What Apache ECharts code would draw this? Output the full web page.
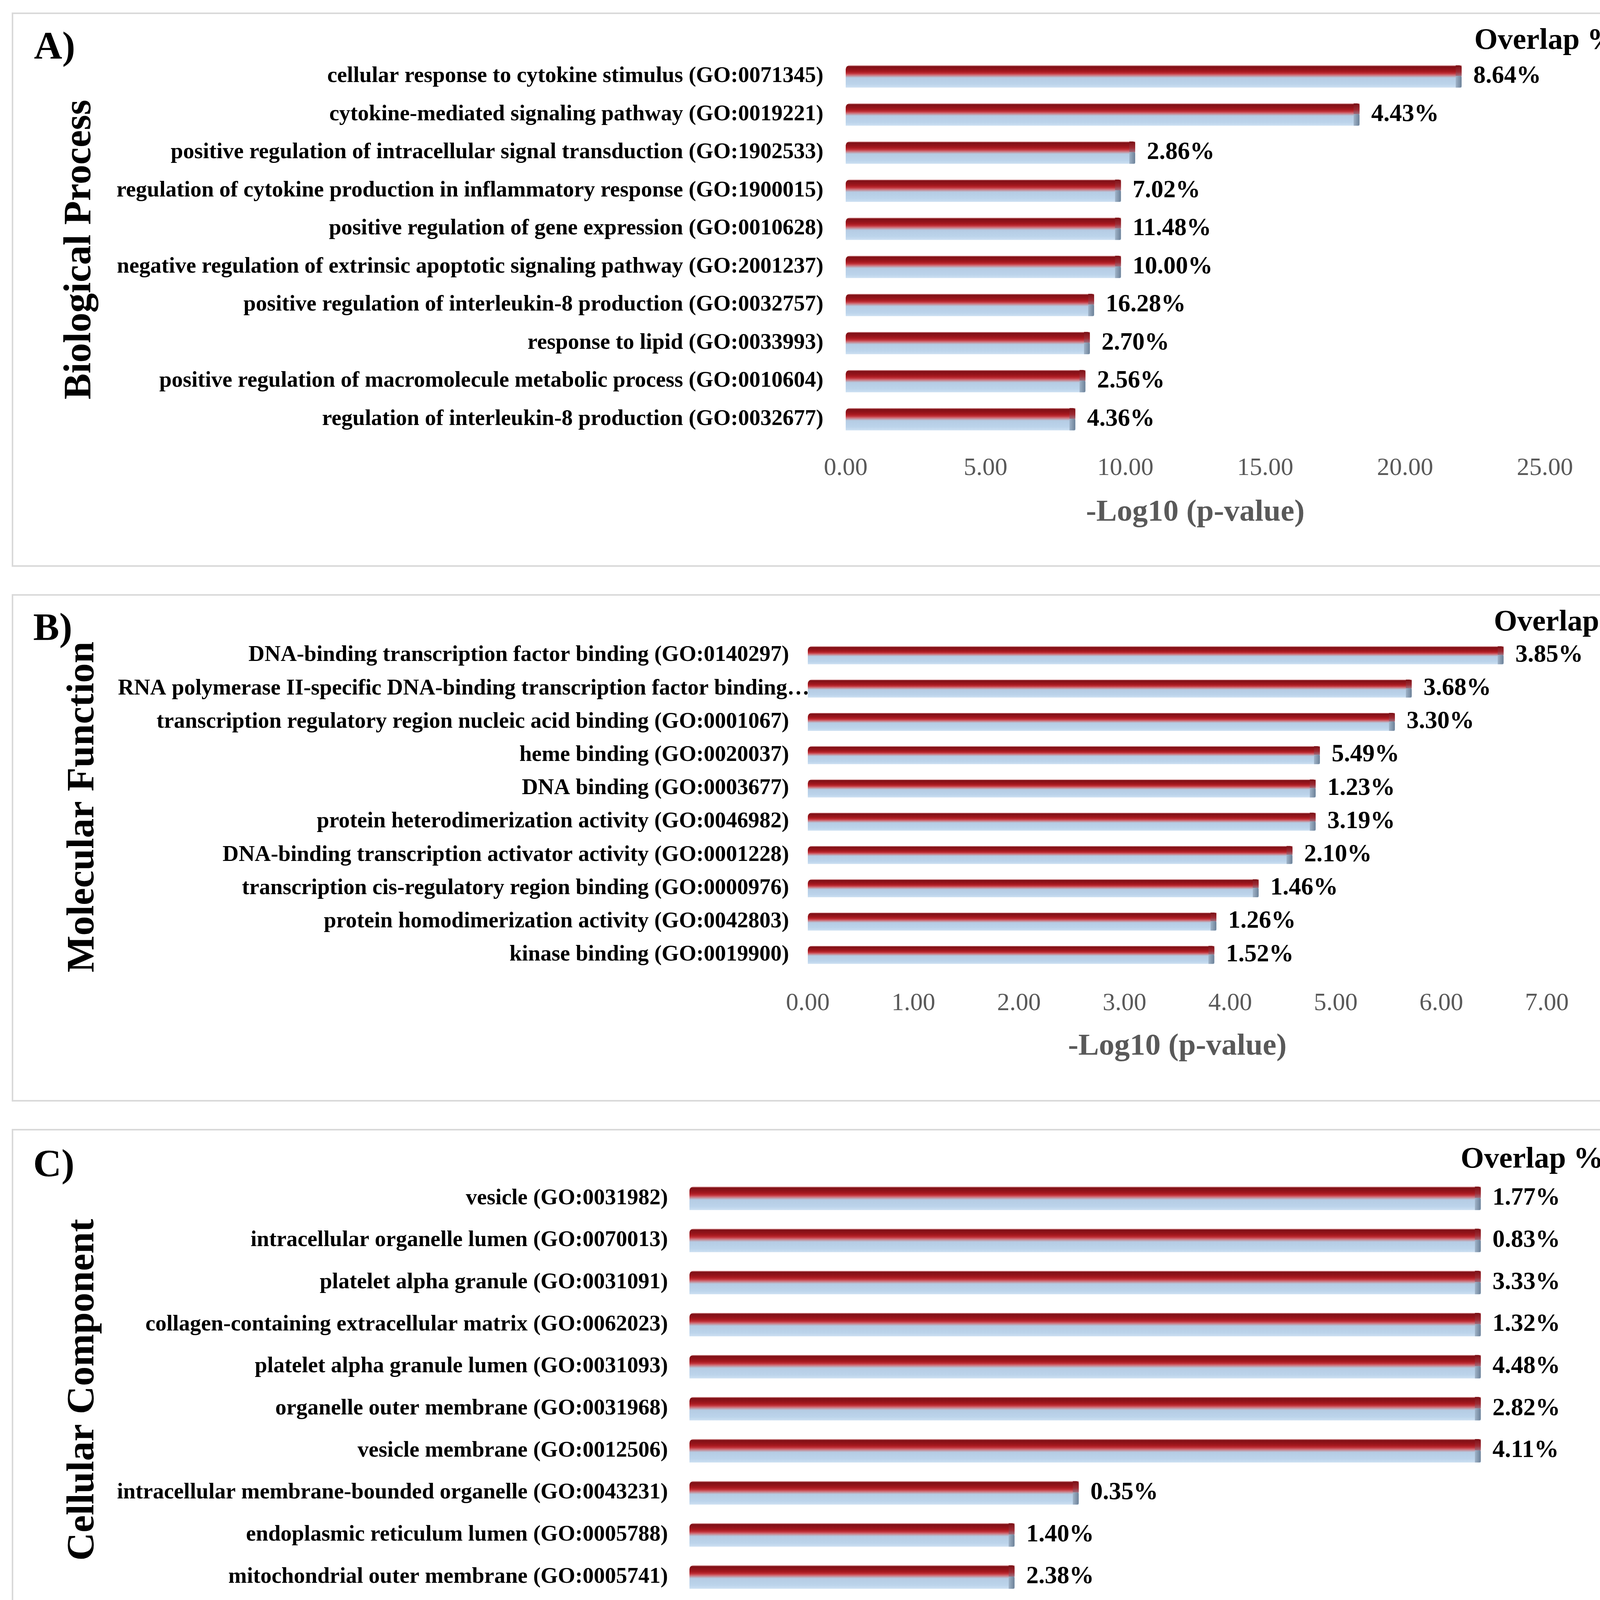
<!DOCTYPE html>
<html>
<head>
<meta charset="utf-8">
<script src="https://cdn.jsdelivr.net/npm/echarts@6/dist/echarts.min.js"></script>
<style>
html,body{margin:0;padding:0;background:#fff;}
#chart{width:4205px;height:4456px;}
</style>
</head>
<body>
<div id="chart"></div>
<script>
// ---------- DATA ----------
const bpCategories = [
  'cellular response to cytokine stimulus (GO:0071345)',
  'cytokine-mediated signaling pathway (GO:0019221)',
  'positive regulation of intracellular signal transduction (GO:1902533)',
  'regulation of cytokine production in inflammatory response (GO:1900015)',
  'positive regulation of gene expression (GO:0010628)',
  'negative regulation of extrinsic apoptotic signaling pathway (GO:2001237)',
  'positive regulation of interleukin-8 production (GO:0032757)',
  'response to lipid (GO:0033993)',
  'positive regulation of macromolecule metabolic process (GO:0010604)',
  'regulation of interleukin-8 production (GO:0032677)'
];
const bpValues = [22.02, 18.37, 10.35, 9.84, 9.84, 9.84, 8.88, 8.73, 8.57, 8.21];
const bpOverlap = ['8.64%', '4.43%', '2.86%', '7.02%', '11.48%', '10.00%', '16.28%', '2.70%', '2.56%', '4.36%'];

const mfCategories = [
  'DNA-binding transcription factor binding (GO:0140297)',
  'RNA polymerase II-specific DNA-binding transcription factor binding\u2026',
  'transcription regulatory region nucleic acid binding (GO:0001067)',
  'heme binding (GO:0020037)',
  'DNA binding (GO:0003677)',
  'protein heterodimerization activity (GO:0046982)',
  'DNA-binding transcription activator activity (GO:0001228)',
  'transcription cis-regulatory region binding (GO:0000976)',
  'protein homodimerization activity (GO:0042803)',
  'kinase binding (GO:0019900)'
];
const mfValues = [6.59, 5.72, 5.56, 4.85, 4.81, 4.81, 4.59, 4.27, 3.87, 3.85];
const mfOverlap = ['3.85%', '3.68%', '3.30%', '5.49%', '1.23%', '3.19%', '2.10%', '1.46%', '1.26%', '1.52%'];

const ccCategories = [
  'vesicle (GO:0031982)',
  'intracellular organelle lumen (GO:0070013)',
  'platelet alpha granule (GO:0031091)',
  'collagen-containing extracellular matrix (GO:0062023)',
  'platelet alpha granule lumen (GO:0031093)',
  'organelle outer membrane (GO:0031968)',
  'vesicle membrane (GO:0012506)',
  'intracellular membrane-bounded organelle (GO:0043231)',
  'endoplasmic reticulum lumen (GO:0005788)',
  'mitochondrial outer membrane (GO:0005741)'
];
const ccValues = [2.27, 2.27, 2.27, 2.27, 2.27, 2.27, 2.27, 2.082, 2.052, 2.052];
const ccOverlap = ['1.77%', '0.83%', '3.33%', '1.32%', '4.48%', '2.82%', '4.11%', '0.35%', '1.40%', '2.38%'];

const panelTitles = ['Biological Process', 'Molecular Function', 'Cellular Component'];
const panelLetters = ['A)', 'B)', 'C)'];
const axisTitle = '-Log10 (p-value)';
const overlapTitle = 'Overlap %';

// ---------- STYLE / LAYOUT ----------
const FONT = "'Liberation Serif', 'Times New Roman', serif";
const chart = echarts.init(document.getElementById('chart'), null, {renderer: 'canvas'});

const panels = [
  {cats: bpCategories, vals: bpValues, ov: bpOverlap, min: 0, max: 25, interval: 5,
   grid: {left: 2165, right: 250, top: 147, height: 975}, barW: 57, catMargin: 57, tickMargin: 45, nameGap: 151},
  {cats: mfCategories, vals: mfValues, ov: mfOverlap, min: 0, max: 7, interval: 1,
   grid: {left: 2068, right: 245, top: 1635, height: 852}, barW: 46, catMargin: 48, tickMargin: 50, nameGap: 153},
  {cats: ccCategories, vals: ccValues, ov: ccOverlap, min: 1.9, max: 2.3, interval: 0.05,
   grid: {left: 1765, right: 250, top: 3014, height: 1077}, barW: 60, catMargin: 55, tickMargin: 59, nameGap: 162}
];

const labelFont = {color: '#000', fontFamily: FONT, fontSize: 57, fontWeight: 'bold'};

function barGradient() {
  return new echarts.graphic.LinearGradient(0, 0, 0, 1, [
    {offset: 0, color: '#eab0b2'},
    {offset: 0.05, color: '#7f1016'},
    {offset: 0.18, color: '#92131a'},
    {offset: 0.28, color: '#a8191f'},
    {offset: 0.36, color: '#bf3038'},
    {offset: 0.43, color: '#cf6871'},
    {offset: 0.50, color: '#bfa3b1'},
    {offset: 0.56, color: '#b5cce4'},
    {offset: 0.85, color: '#bcd4eb'},
    {offset: 1, color: '#cde0f2'}
  ]);
}

const grids = [], xAxes = [], yAxes = [], series = [];
panels.forEach((p, i) => {
  grids.push(Object.assign({outerBoundsMode: 'none', containLabel: false}, p.grid));
  xAxes.push({
    type: 'value', gridIndex: i, min: p.min, max: p.max, interval: p.interval,
    axisLine: {show: false}, axisTick: {show: false}, splitLine: {show: false},
    axisLabel: {
      color: '#595959', fontFamily: FONT, fontSize: 64, margin: p.tickMargin,
      formatter: v => v.toFixed(2)
    },
    name: axisTitle, nameLocation: 'middle', nameGap: p.nameGap,
    nameTextStyle: {color: '#595959', fontFamily: FONT, fontSize: 79, fontWeight: 'bold'}
  });
  yAxes.push({
    type: 'category', gridIndex: i, data: p.cats, inverse: true,
    axisLine: {show: false}, axisTick: {show: false}, splitLine: {show: false},
    axisLabel: Object.assign({
      margin: p.catMargin, interval: 0,
      // the truncated Excel label runs up to the bar start, as in the original
      formatter: v => v.endsWith('\u2026') ? '{trunc|' + v + '}' : v,
      rich: {trunc: Object.assign({width: 1718, align: 'left'}, labelFont)}
    }, labelFont)
  });
  series.push({
    type: 'bar', xAxisIndex: i, yAxisIndex: i, data: p.vals, barWidth: p.barW,
    itemStyle: {color: barGradient(), borderRadius: [10, 0, 0, 0]},
    label: {
      show: true, position: 'right', distance: 30,
      color: '#000', fontFamily: FONT, fontSize: 63, fontWeight: 'bold',
      formatter: prm => p.ov[prm.dataIndex]
    },
    silent: true, animation: false
  });
  series.push({
    type: 'custom', xAxisIndex: i, yAxisIndex: i, z: 5, silent: true, animation: false,
    data: p.vals.map((v, k) => [v, k]),
    renderItem: function (params, api) {
      const end = api.coord([api.value(0), api.value(1)]);
      const h = p.barW;
      const w = 15;
      return {
        type: 'group',
        children: [
          {type: 'rect', shape: {x: end[0] - w, y: end[1] - h * 0.5, width: w, height: h * 0.48, r: [0, 6, 0, 0]},
           style: {fill: new echarts.graphic.LinearGradient(0, 0, 0, 1, [
             {offset: 0, color: '#7a1015'}, {offset: 0.6, color: '#9e2a33'}, {offset: 1, color: '#a0707f'}])}},
          {type: 'rect', shape: {x: end[0] - w, y: end[1] - h * 0.02, width: w, height: h * 0.52, r: [0, 4, 4, 0]},
           style: {fill: new echarts.graphic.LinearGradient(0, 0, 1, 0, [
             {offset: 0, color: '#9fb3c8'}, {offset: 1, color: '#6c8198'}])}}
        ]
      };
    }
  });
});

// ---------- DECORATION (panel frames, titles) ----------
const frames = [[32, 34, 4147, 1415], [32, 1523, 4147, 1295], [32, 2892, 4147, 1540]];
const letterPos = [[87, 124], [85, 1612], [85, 2985]];
const titlePos = [[205, 639], [213, 2066], [213, 3558]];
const overlapPos = [[4140, 105], [4190, 1594], [4105, 2969]];

const graphics = [];
frames.forEach(f => graphics.push({
  type: 'rect', z: -10, silent: true,
  shape: {x: f[0], y: f[1], width: f[2], height: f[3]},
  style: {fill: '#fff', stroke: '#d9d9d9', lineWidth: 4}
}));
panelLetters.forEach((t, i) => graphics.push({
  type: 'text', x: letterPos[i][0], y: letterPos[i][1], silent: true,
  style: {text: t, font: 'bold 100px ' + FONT, fill: '#000', align: 'left', verticalAlign: 'middle'}
}));
panelTitles.forEach((t, i) => graphics.push({
  type: 'text', x: titlePos[i][0], y: titlePos[i][1], rotation: Math.PI / 2, silent: true,
  style: {text: t, font: 'bold 100px ' + FONT, fill: '#000', align: 'center', verticalAlign: 'middle'}
}));
overlapPos.forEach(pos => graphics.push({
  type: 'text', x: pos[0], y: pos[1], silent: true,
  style: {text: overlapTitle, font: 'bold 77px ' + FONT, fill: '#000', align: 'right', verticalAlign: 'middle'}
}));

chart.setOption({
  backgroundColor: '#ffffff',
  animation: false,
  grid: grids,
  xAxis: xAxes,
  yAxis: yAxes,
  series: series,
  graphic: graphics
});
</script>
</body>
</html>
